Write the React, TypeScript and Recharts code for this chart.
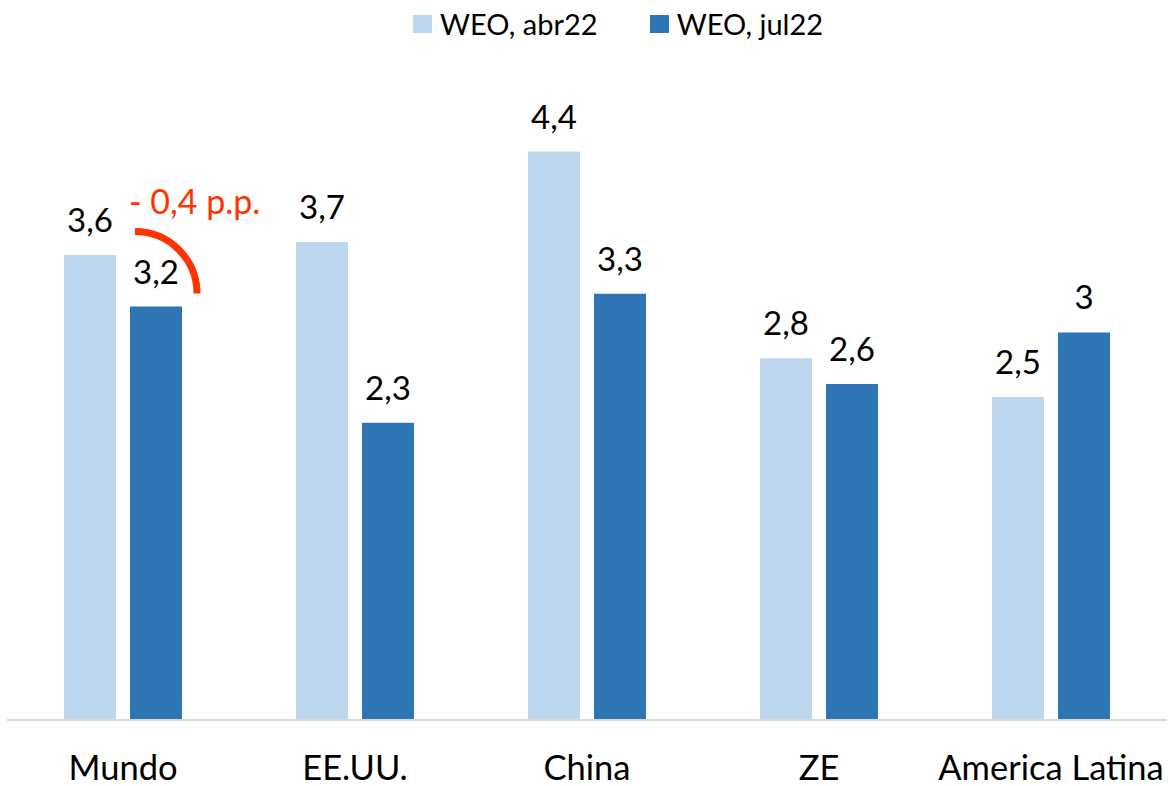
import React from "react";
import { BarChart, Bar, XAxis, YAxis, LabelList } from "recharts";

const categories = ["Mundo", "EE.UU.", "China", "ZE", "America Latina"];
const weoAbr22 = [3.6, 3.7, 4.4, 2.8, 2.5];
const weoJul22 = [3.2, 2.3, 3.3, 2.6, 3];
const seriesNames = ["WEO, abr22", "WEO, jul22"];
const annotationText = "- 0,4 p.p.";

const LIGHT = "#BDD7EE";
const DARK = "#2E75B6";
const RED = "#FF3300";
const FONT = "Lato, 'Open Sans', sans-serif";

const data = categories.map((c, i) => ({ name: c, abr: weoAbr22[i], jul: weoJul22[i] }));

const fmt = (v: number) => String(v).replace(".", ",");

const ValueLabel = (props: any) => {
  const { x, y, width, value } = props;
  return (
    <text x={x + width / 2} y={y - 23} textAnchor="middle" fontSize={33} fontFamily={FONT} fill="#000">
      {fmt(value)}
    </text>
  );
};

const DarkLabel = (props: any) => {
  const { x, y, width, value, index } = props;
  const cx = x + 5;
  const cy = y - 13;
  const r = 62;
  return (
    <g>
      <text x={x + width / 2} y={y - 23} textAnchor="middle" fontSize={33} fontFamily={FONT} fill="#000">
        {fmt(value)}
      </text>
      {index === 0 && (
        <g>
          <path
            d={`M ${cx} ${cy - r} A ${r} ${r} 0 0 1 ${cx + r} ${cy}`}
            fill="none"
            stroke={RED}
            strokeWidth={7}
          />
          <text x={x - 1} y={y - 93} fontSize={34} fontFamily={FONT} fill={RED}>
            {annotationText}
          </text>
        </g>
      )}
    </g>
  );
};

const XTick = (props: any) => {
  const { x, y, payload } = props;
  return (
    <text x={x} y={y + 52} textAnchor="middle" fontSize={34.5} fontFamily={FONT} fill="#000">
      {payload.value}
    </text>
  );
};

const LegendBox = () => (
  <div
    style={{
      position: "absolute",
      left: 413,
      top: 6,
      display: "flex",
      alignItems: "center",
      fontFamily: FONT,
      fontSize: 29,
      color: "#000",
      whiteSpace: "nowrap",
    }}
  >
    <span style={{ display: "inline-block", width: 19, height: 18, background: LIGHT, marginRight: 8 }} />
    <span style={{ marginRight: 52 }}>{seriesNames[0]}</span>
    <span style={{ display: "inline-block", width: 19, height: 18, background: DARK, marginRight: 8 }} />
    <span>{seriesNames[1]}</span>
  </div>
);

export default function App() {
  return (
    <div style={{ position: "absolute", left: 0, top: 0, width: 1168, height: 786, background: "#fff" }}>
      <BarChart
        width={1168}
        height={786}
        data={data}
        margin={{ top: 74, right: 1, left: 7, bottom: 6 }}
        barSize={52}
        barGap={14}
      >
        <XAxis
          dataKey="name"
          tickLine={false}
          axisLine={{ stroke: "#D9D9D9", strokeWidth: 2 }}
          tick={<XTick />}
          height={60}
          interval={0}
        />
        <YAxis hide domain={[0, 5]} />
        <Bar dataKey="abr" name={seriesNames[0]} fill={LIGHT} isAnimationActive={false}>
          <LabelList dataKey="abr" content={<ValueLabel />} />
        </Bar>
        <Bar dataKey="jul" name={seriesNames[1]} fill={DARK} isAnimationActive={false}>
          <LabelList dataKey="jul" content={<DarkLabel />} />
        </Bar>
      </BarChart>
      <LegendBox />
    </div>
  );
}
